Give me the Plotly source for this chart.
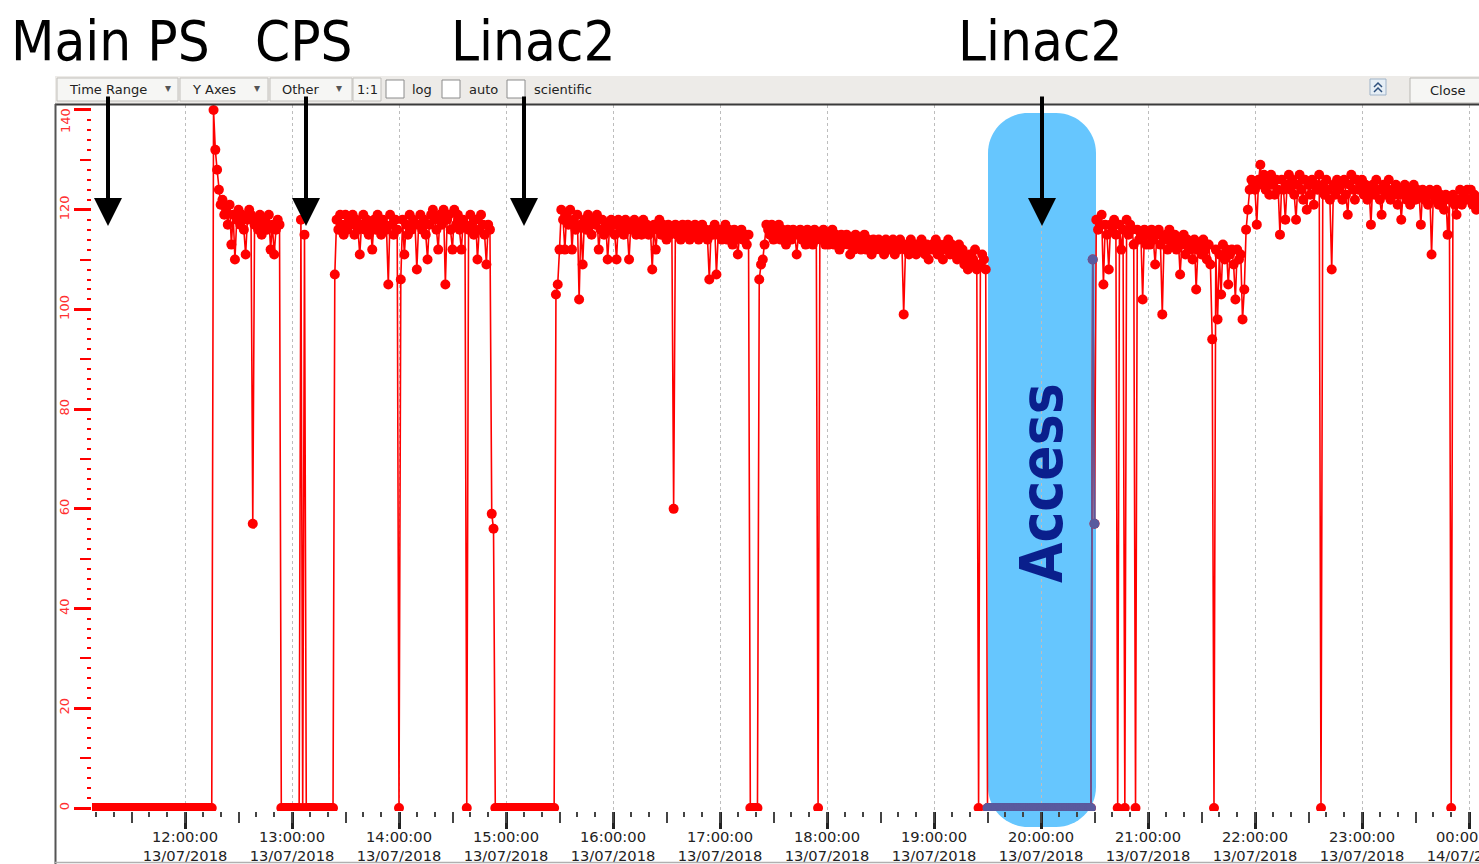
import pandas as pd
import plotly.graph_objects as go

# ---------------- data: beam intensity read every minute, one list per hour ----------------
hour_starts = ["2018-07-13 11:00", "2018-07-13 12:00", "2018-07-13 13:00", "2018-07-13 14:00",
               "2018-07-13 15:00", "2018-07-13 16:00", "2018-07-13 17:00", "2018-07-13 18:00",
               "2018-07-13 19:00", "2018-07-13 20:00", "2018-07-13 21:00", "2018-07-13 22:00",
               "2018-07-13 23:00", "2018-07-14 00:00"]

v_11 = [0, 0, 0, 0, 0, 0, 0, 0, 0, 0,
        0, 0, 0, 0, 0, 0, 0, 0, 0, 0,
        0, 0, 0, 0, 0, 0, 0, 0, 0, 0,
        0, 0, 0, 0, 0, 0, 0, 0, 0, 0,
        0, 0, 0, 0, 0, 0, 0, 0, 0, 0,
        0, 0, 0, 0, 0, 0, 0, 0, 0, 0]
v_12 = [0, 0, 0, 0, 0, 0, 0, 0, 0, 0,
        0, 0, 0, 0, 0, 0, 140, 132, 128, 124,
        121, 122, 119, 120, 117, 121, 113, 119, 110, 118,
        120, 117, 119, 116, 111, 118, 120, 119, 57, 117,
        118, 116, 119, 115, 117, 118, 116, 119, 112, 117,
        111, 116, 118, 117, 0, 0, 0, 0, 0, 0]
v_13 = [0, 0, 0, 0, 0, 118, 0, 115, 0, 0,
        0, 0, 0, 0, 0, 0, 0, 0, 0, 0,
        0, 0, 0, 0, 107, 118, 116, 119, 117, 115,
        119, 116, 118, 117, 119, 115, 118, 116, 111, 117,
        119, 116, 118, 115, 117, 112, 118, 116, 119, 117,
        115, 118, 117, 116, 105, 119, 117, 115, 118, 116]
v_14 = [0, 106, 118, 111, 117, 115, 119, 116, 118, 117,
        108, 117, 119, 116, 118, 115, 110, 117, 119, 120,
        118, 116, 112, 119, 117, 120, 105, 118, 119, 116,
        112, 120, 117, 119, 116, 112, 118, 117, 0, 116,
        119, 117, 115, 118, 110, 116, 119, 117, 115, 109,
        117, 116, 59, 56, 0, 0, 0, 0, 0, 0]
v_15 = [0, 0, 0, 0, 0, 0, 0, 0, 0, 0,
        0, 0, 0, 0, 0, 0, 0, 0, 0, 0,
        0, 0, 0, 0, 0, 0, 0, 0, 103, 105,
        112, 120, 118, 112, 119, 117, 120, 112, 118, 116,
        119, 102, 117, 109, 118, 116, 119, 117, 115, 118,
        117, 119, 112, 116, 118, 115, 117, 110, 116, 118]
v_16 = [117, 115, 110, 118, 116, 117, 115, 118, 116, 110,
        117, 116, 118, 115, 117, 116, 115, 118, 116, 117,
        115, 116, 108, 117, 112, 116, 118, 115, 117, 116,
        114, 117, 115, 116, 60, 117, 115, 116, 114, 117,
        116, 115, 117, 114, 116, 115, 117, 116, 114, 115,
        117, 115, 116, 114, 106, 116, 115, 117, 107, 115]
v_17 = [116, 114, 115, 117, 114, 116, 115, 113, 116, 114,
        111, 115, 116, 114, 115, 113, 115, 0, 0, 0,
        0, 0, 106, 109, 110, 113, 117, 116, 115, 117,
        114, 116, 115, 117, 114, 116, 115, 113, 116, 115,
        114, 116, 115, 111, 115, 116, 114, 115, 113, 116,
        114, 115, 113, 116, 114, 0, 115, 114, 116, 113]
v_18 = [115, 113, 114, 116, 113, 115, 114, 112, 115, 113,
        114, 115, 113, 111, 114, 112, 115, 113, 114, 112,
        113, 115, 112, 114, 113, 111, 114, 112, 113, 114,
        112, 113, 111, 114, 112, 113, 112, 114, 111, 113,
        112, 114, 113, 99, 112, 113, 111, 114, 112, 113,
        111, 113, 112, 114, 112, 111, 113, 110, 112, 113]
v_19 = [112, 114, 111, 113, 112, 110, 113, 112, 114, 111,
        113, 111, 112, 110, 113, 111, 112, 109, 110, 108,
        111, 109, 110, 112, 108, 0, 109, 111, 110, 108,
        0, 0, 0, 0, 0, 0, 0, 0, 0, 0,
        0, 0, 0, 0, 0, 0, 0, 0, 0, 0,
        0, 0, 0, 0, 0, 0, 0, 0, 0, 0]
v_20 = [0, 0, 0, 0, 0, 0, 0, 0, 0, 0,
        0, 0, 0, 0, 0, 0, 0, 0, 0, 0,
        0, 0, 0, 0, 0, 0, 0, 0, 0, 110,
        57, 118, 116, 117, 119, 105, 117, 115, 108, 117,
        116, 118, 115, 0, 117, 112, 116, 0, 118, 115,
        117, 116, 113, 0, 116, 114, 115, 102, 116, 113]
v_21 = [115, 113, 116, 114, 109, 115, 116, 113, 99, 114,
        115, 112, 116, 114, 113, 115, 112, 114, 107, 113,
        115, 111, 114, 112, 113, 110, 114, 104, 112, 113,
        111, 114, 112, 110, 113, 109, 94, 0, 112, 98,
        111, 103, 113, 110, 112, 105, 111, 112, 109, 102,
        112, 110, 111, 98, 104, 116, 120, 124, 126, 125]
v_22 = [124, 117, 126, 129, 125, 127, 124, 126, 123, 127,
        125, 123, 126, 124, 115, 126, 124, 118, 125, 127,
        124, 126, 123, 118, 125, 127, 124, 122, 126, 120,
        125, 123, 126, 121, 125, 124, 127, 0, 125, 123,
        126, 124, 122, 108, 125, 123, 126, 124, 125, 122,
        126, 123, 119, 125, 127, 124, 122, 126, 124, 125]
v_23 = [126, 123, 125, 122, 124, 117, 125, 123, 126, 124,
        122, 119, 125, 123, 124, 126, 122, 124, 123, 125,
        121, 124, 118, 123, 125, 122, 124, 121, 123, 125,
        122, 124, 123, 117, 124, 122, 123, 121, 124, 111,
        123, 122, 124, 121, 123, 122, 120, 123, 115, 122,
        0, 123, 121, 119, 122, 124, 121, 123, 122, 124]
v_00 = [122, 124, 121, 123, 120, 122, 121]

hour_values = [v_11, v_12, v_13, v_14, v_15, v_16, v_17, v_18, v_19, v_20, v_21, v_22, v_23, v_00]

access_window = ("2018-07-13 19:29:30", "2018-07-13 20:30:30")
x_range = ["2018-07-13 11:07:51", "2018-07-14 00:05:36"]
y_range = [-0.6, 141.0]
y_ticks = [0, 20, 40, 60, 80, 100, 120, 140]

title_labels = ["Main PS", "CPS", "Linac2", "Linac2"]

# ---------------- build series ----------------
times, vals = [], []
for start, v in zip(hour_starts, hour_values):
    times.extend(pd.date_range(start, periods=len(v), freq="1min"))
    vals.extend(v)
s = pd.Series(vals, index=pd.DatetimeIndex(times))
inside = s[(s.index >= access_window[0]) & (s.index <= access_window[1])]

# ---------------- geometry helpers (pixel -> paper) ----------------
W, H = 1479, 864
L, R, T, B = 92, 1479, 105, 811


def px(x):
    return (x - L) / (R - L)


def py(y):
    return (B - y) / (B - T)


fig = go.Figure()
fig.add_trace(go.Scatter(x=s.index, y=s.values, mode="lines+markers",
                         line=dict(color="#ff0000", width=1.6),
                         marker=dict(color="#ff0000", size=10),
                         showlegend=False, hoverinfo="skip"))
fig.add_trace(go.Scatter(x=inside.index, y=inside.values, mode="lines+markers",
                         line=dict(color="#5a5a9e", width=1.6),
                         marker=dict(color="#5a5a9e", size=10),
                         showlegend=False, hoverinfo="skip"))
# carrier for the secondary (tick-only) axes
fig.add_trace(go.Scatter(x=[], y=[], xaxis="x2", yaxis="y2", showlegend=False, hoverinfo="skip"))

shapes = []


def rect(x0, y0, x1, y1, fill, line="rgba(0,0,0,0)", lw=1, layer="above"):
    shapes.append(dict(type="rect", xref="paper", yref="paper", x0=px(x0), x1=px(x1),
                       y0=py(y1), y1=py(y0), fillcolor=fill,
                       line=dict(color=line, width=lw), layer=layer))


def hline(x0, x1, y, color, w):
    shapes.append(dict(type="line", xref="paper", yref="paper", x0=px(x0), x1=px(x1),
                       y0=py(y), y1=py(y), line=dict(color=color, width=w), layer="above"))


def vline(x, y0, y1, color, w):
    shapes.append(dict(type="line", xref="paper", yref="paper", x0=px(x), x1=px(x),
                       y0=py(y0), y1=py(y1), line=dict(color=color, width=w), layer="above"))


# toolbar
rect(55, 76, 1479, 104, "#edebe8", lw=0)
for (a, b) in [(57, 178), (180, 268), (270, 352), (353, 381)]:
    rect(a, 78, b, 101, "#f6f6f4", "#c2c0bc", 1)
for a in [386, 442, 507]:
    rect(a, 80, a + 18, 98, "#ffffff", "#8c8c8c", 1)
rect(1410, 78, 1492, 103, "#f6f6f4", "#b8b6b2", 1)
rect(1370, 79, 1386, 95, "#e6eef5", "#9fb3c8", 1)
for yy in (87, 92):
    shapes.append(dict(type="path", xref="paper", yref="paper", layer="above",
                       path=f"M{px(1374)},{py(yy)} L{px(1378)},{py(yy - 4)} L{px(1382)},{py(yy)}",
                       line=dict(color="#2c4f7c", width=1.5)))
hline(55, 1479, 104.5, "#3a3a3a", 2)
vline(55.5, 104, 864, "#555555", 2)
hline(55, 1479, 862.5, "#b0b0b0", 1.5)

# Access box (rounded rectangle)
bx0, bx1, by0, by1, rr = 988, 1096, 113, 827, 40
k = 0.5523 * rr
path = (f"M{px(bx0 + rr)},{py(by0)} L{px(bx1 - rr)},{py(by0)} "
        f"C{px(bx1 - rr + k)},{py(by0)} {px(bx1)},{py(by0 + rr - k)} {px(bx1)},{py(by0 + rr)} "
        f"L{px(bx1)},{py(by1 - rr)} "
        f"C{px(bx1)},{py(by1 - rr + k)} {px(bx1 - rr + k)},{py(by1)} {px(bx1 - rr)},{py(by1)} "
        f"L{px(bx0 + rr)},{py(by1)} "
        f"C{px(bx0 + rr - k)},{py(by1)} {px(bx0)},{py(by1 - rr + k)} {px(bx0)},{py(by1 - rr)} "
        f"L{px(bx0)},{py(by0 + rr)} "
        f"C{px(bx0)},{py(by0 + rr - k)} {px(bx0 + rr - k)},{py(by0)} {px(bx0 + rr)},{py(by0)} Z")
shapes.append(dict(type="path", xref="paper", yref="paper", path=path,
                   fillcolor="#66c6fe", line=dict(width=0), layer="between"))

annotations = []
tb_font = dict(family="DejaVu Sans", size=13, color="#222222")


def label(x, y, text, font, xanchor="center", **kw):
    annotations.append(dict(xref="paper", yref="paper", x=px(x), y=py(y), text=text,
                            showarrow=False, font=font, xanchor=xanchor, yanchor="middle", **kw))


label(108, 89, "Time Range", tb_font)
label(214, 89, "Y Axes", tb_font)
label(301, 89, "Other", tb_font)
label(367, 89, "1:1", tb_font)
for xx in (168, 257, 339):
    label(xx, 88, "▾", dict(family="DejaVu Sans", size=12, color="#555555"))
label(410, 89, "log", tb_font, xanchor="left")
label(467, 89, "auto", tb_font, xanchor="left")
label(532, 89, "scientific", tb_font, xanchor="left")
label(1447, 91, "Close", tb_font)

# top y tick label sits just below the frame in the original
label(66, 121, str(y_ticks[-1]), dict(family="DejaVu Sans", size=13, color="#ff3030"), textangle=-90)

title_font = dict(family="DejaVu Sans Condensed, sans-serif", size=56, color="#000000")
for text, xc in zip(title_labels, [110, 304, 533, 1040]):
    label(xc, 40, text, title_font)

for xa in (108, 306, 524, 1042):
    annotations.append(dict(xref="paper", yref="paper", x=px(xa), y=py(226), ax=0, ay=-131,
                            text="", showarrow=True, arrowhead=2, arrowsize=1.4, arrowwidth=4,
                            arrowcolor="#000000", standoff=0))

label(1042, 483, "<b>Access</b>", dict(family="DejaVu Sans Condensed, sans-serif",
                                      size=58, color="#0a1f8c"), textangle=-90)

fig.update_layout(
    width=W, height=H,
    margin=dict(l=L, r=W - R, t=T, b=H - B, autoexpand=False),
    paper_bgcolor="#ffffff", plot_bgcolor="#ffffff",
    showlegend=False, hovermode=False,
    shapes=shapes, annotations=annotations,
    xaxis=dict(type="date", range=x_range, tick0="2018-07-13 00:00", dtick=3600000,
               tickformat="%H:%M:%S<br>%d/%m/%Y", ticks="outside", ticklen=17, tickwidth=3,
               tickcolor="#222222", showline=False, zeroline=False,
               showgrid=True, gridcolor="#bdbdbd", griddash="dot", gridwidth=1,
               ticklabeloverflow="allow", ticklabelstandoff=-5,
               tickfont=dict(family="DejaVu Sans", size=14.7, color="#222222"),
               minor=dict(dtick=600000, ticks="outside", ticklen=5, tickwidth=1.5,
                          tickcolor="#444444", showgrid=False)),
    xaxis2=dict(type="date", range=x_range, overlaying="x", anchor="y", side="bottom",
                tick0="2018-07-13 00:00", dtick=1800000, ticks="outside", ticklen=11,
                tickwidth=1.5, tickcolor="#444444", showticklabels=False, showgrid=False,
                zeroline=False, showline=False),
    yaxis=dict(range=y_range, tickmode="array", tickvals=y_ticks,
               ticktext=[str(t) for t in y_ticks[:-1]] + [""],
               ticks="outside", ticklen=17, tickwidth=2.5,
               tickcolor="#ff0000", tickangle=-90, showline=False, zeroline=False, showgrid=False,
               tickfont=dict(family="DejaVu Sans", size=13, color="#ff3030"),
               minor=dict(dtick=2, tick0=0, ticks="outside", ticklen=4, tickwidth=1.5,
                          tickcolor="#ff0000")),
    yaxis2=dict(range=y_range, overlaying="y", anchor="x", side="left", tick0=0, dtick=10,
                ticks="outside", ticklen=11, tickwidth=1.5, tickcolor="#ff0000",
                showticklabels=False, showgrid=False, zeroline=False, showline=False),
)

fig.write_html("out.html")
